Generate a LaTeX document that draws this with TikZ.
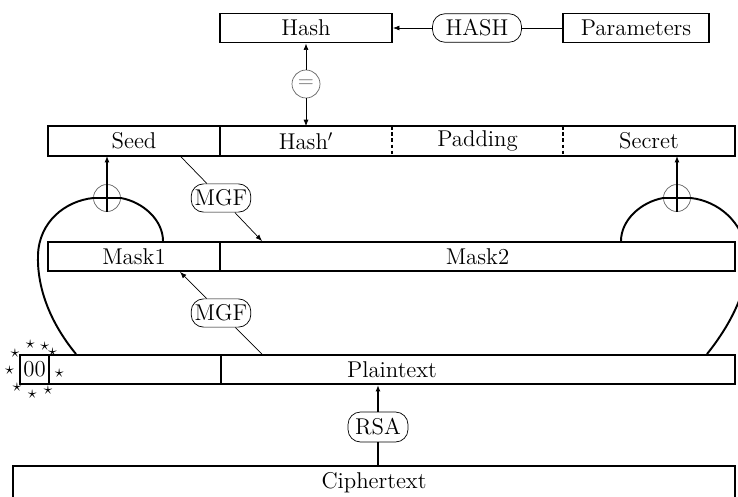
\documentclass[tikz,border=0pt]{standalone}
\usetikzlibrary{arrows.meta,calc,positioning}

\begin{document}
\begin{tikzpicture}[x=0.02cm,y=-0.02cm]
\tikzstyle{every node}=[font=\fontsize{13}{15}\selectfont]
\tikzstyle{cell}=[draw, line width=1.1pt, minimum height=0.58cm, inner sep=0pt]
\tikzstyle{slot}=[minimum height=0.58cm, minimum width=3.44cm, inner sep=0pt]
\tikzstyle{proc}=[draw, thin, rounded corners=2.5mm, minimum height=0.52cm, inner xsep=2pt, fill=white]
\tikzstyle{op}=[draw=black!60, thin, circle, minimum size=0.54cm, inner sep=0pt, text=black!60]
\tikzset{flow/.style={-{Latex[length=1.3mm,width=1mm]}}, heavy/.style={line width=1.1pt}}
\useasboundingbox (0,0) rectangle (738,497);
\clip (0,0) rectangle (738,497);
% top: hash of parameters
\node [cell, minimum width=3.44cm] (Hash) at (306,28) {Hash};
\node [proc, minimum width=1.78cm] (HASH) at (477,28) {HASH};
\node [cell, minimum width=2.92cm] (Parameters) at (636,28) {Parameters};
\node [op, minimum size=0.56cm] (EQ) at (306,84) {$=$};
% decoded block
\node [slot] (Seed) at (134,141) {Seed};
\node [slot] (Hashp) at (306,141) {Hash$'$};
\node [slot, minimum width=3.42cm] (Padding) at (477.5,141) {Padding};
\node [slot] (Secret) at (649,141) {Secret};
\draw [heavy] (Seed.north west) rectangle (Secret.south east);
\draw [heavy] (Seed.north east) -- (Seed.south east);
\draw [heavy, dash pattern=on 2pt off 1.5pt] (Hashp.north east) -- (Hashp.south east);
\draw [heavy, dash pattern=on 2pt off 1.5pt] (Padding.north east) -- (Padding.south east);
% masks
\node [cell, minimum width=3.44cm] (Mask1) at (134,256.5) {Mask1};
\node [cell, minimum width=10.3cm] (Mask2) at (477.5,256.5) {Mask2};
\node [op] (xorL) at (107,198) {};
\node [op] (xorR) at (677,198) {};
\node [proc, minimum width=1.16cm] (MGFa) at (221,198) {MGF};
\node [proc, minimum width=1.16cm] (MGFb) at (221,313) {MGF};
% plaintext and ciphertext
\node [cell, minimum width=0.58cm] (zero) at (34.5,369.5) {00};
\node [cell, minimum width=13.72cm] (ptxt) at (392,369.5) {Plaintext};
\draw [heavy] (Mask1.east |- ptxt.north) -- (Mask1.east |- ptxt.south);
\foreach \a in {44,66,100,141,183,226,265,303,352}
  \node [font=\normalsize, inner sep=0pt] (star\a) at ($(zero.center)+(\a:0.5cm)$) {$\star$};
\node [proc, minimum width=1.2cm, minimum height=0.6cm] (RSA) at (378,427) {RSA};
\node [cell, minimum width=14.44cm, minimum height=0.68cm] (ctxt) at (374,483) {Ciphertext};
% connectors
\draw [flow] (HASH) -- (Hash);
\draw (Parameters) -- (HASH);
\draw [flow] (EQ) -- (Hash.south -| EQ);
\draw [flow] (EQ) -- (Hashp.north -| EQ);
\draw (180,0 |- Seed.south) -- (MGFa);
\draw [flow] (MGFa) -- (262,0 |- Mask2.north);
\draw (262,0 |- ptxt.north) -- (MGFb);
\draw [flow] (MGFb) -- (180,0 |- Mask1.south);
\draw [heavy, flow] (xorL.south) -- (xorL |- Seed.south);
\draw [heavy, flow] (xorR.south) -- (xorR |- Secret.south);
\draw [heavy] (76,0 |- ptxt.north) .. controls (48,320) and (37,285) .. (38,255)
  .. controls (39,222) and (65,201) .. (xorL.west) -- (xorL.east)
  .. controls (143,202) and (163,220) .. (163,0 |- Mask1.north);
\draw [heavy] (621,0 |- Mask2.north) .. controls (621,220) and (641,202) .. (xorR.west)
  -- (xorR.east) .. controls (718,201) and (744,222) .. (747,255)
  .. controls (750,290) and (728,328) .. (707,0 |- ptxt.north);
\draw [heavy] (RSA) -- (ctxt.north -| RSA);
\draw [heavy, flow] (RSA) -- (ptxt.south -| RSA);
\end{tikzpicture}
\end{document}
